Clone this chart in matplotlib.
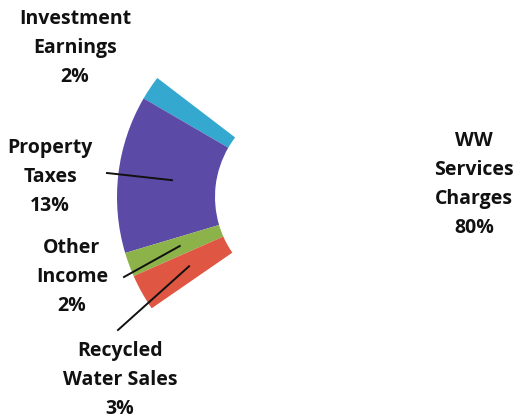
import matplotlib.pyplot as plt
import numpy as np

labels = ['WW\nServices\nCharges', 'Investment\nEarnings', 'Property\nTaxes',
          'Other\nIncome', 'Recycled\nWater Sales']
shares = [80, 2, 13, 2, 3]
colors = ['white', '#35a8cf', '#5b4ba6', '#8cb24a', '#df5642']

# label centres and leader-line starts, in image pixels (x, y from top)
label_pos = [(474, 185), (75, 48), (50, 177), (72, 277), (120, 380)]
leader_start = [None, None, (107, 173), (124, 277), (118, 330)]

W, H = 519, 419
cx, cy = 313, H - 197
R = 196
ring = 98
start = 142.6 - 360 * shares[0] / 100

fig = plt.figure(figsize=(W / 100, H / 100), dpi=100)
ax = fig.add_axes([0, 0, 1, 1])

wedges, _ = ax.pie(shares, colors=colors, radius=R, center=(cx, cy),
                   startangle=start, counterclock=True, frame=True,
                   wedgeprops=dict(width=ring, linewidth=0))
ax.set_xlim(0, W)
ax.set_ylim(0, H)
ax.set_aspect('equal')
ax.axis('off')

font = dict(family='Open Sans', weight='bold', size=14, color='#111111')
for lab, val, (x, y), st, w in zip(labels, shares, label_pos, leader_start, wedges):
    ax.text(x, H - y, f'{lab}\n{val}%', ha='center', va='center',
            multialignment='center', linespacing=1.6, **font)
    if st is not None:
        mid = np.deg2rad((w.theta1 + w.theta2) / 2)
        r = R - ring / 2 - 5
        ex, ey = cx + r * np.cos(mid), cy + r * np.sin(mid)
        ax.plot([st[0], ex], [H - st[1], ey], color='#111111', lw=1.4)

fig.savefig('out.png', dpi=100, facecolor='white')
